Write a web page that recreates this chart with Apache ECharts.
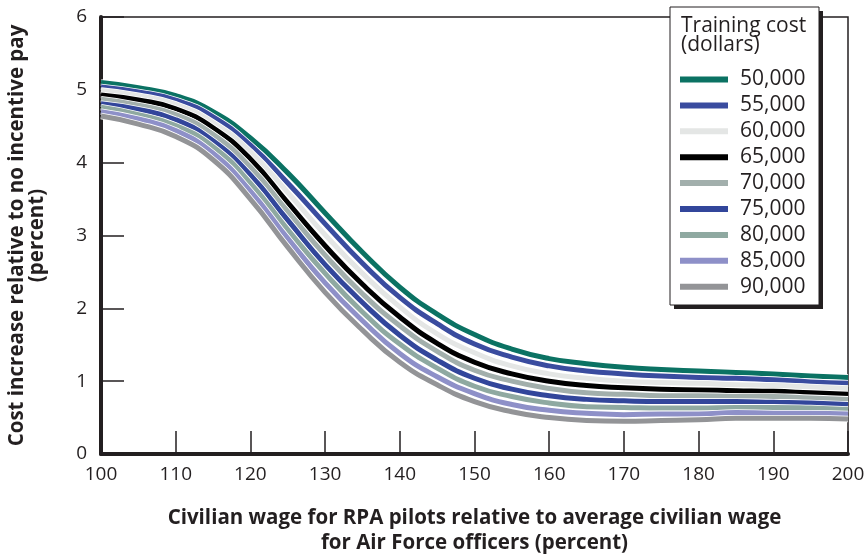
<!DOCTYPE html>
<html>
<head>
<meta charset="utf-8">
<script src="https://cdn.jsdelivr.net/npm/echarts@6/dist/echarts.min.js"></script>
<style>
html, body { margin: 0; padding: 0; background: #fff; }
#chart { width: 865px; height: 558px; }
</style>
</head>
<body>
<div id="chart"></div>
<script>
// wage ratio (percent), x positions of the points
const wage = [100, 105, 110, 115, 120, 125, 130, 135, 140, 145, 150, 155, 160, 165, 170, 175, 180, 185, 190, 195, 200];

// cost increase (percent) per training cost
const cost50 = [5.10, 5.03, 4.92, 4.70, 4.34, 3.86, 3.31, 2.77, 2.29, 1.92, 1.64, 1.44, 1.31, 1.24, 1.19, 1.16, 1.14, 1.12, 1.10, 1.07, 1.05];
const cost55 = [5.04, 4.97, 4.86, 4.63, 4.24, 3.72, 3.16, 2.62, 2.15, 1.79, 1.51, 1.33, 1.21, 1.14, 1.10, 1.07, 1.05, 1.04, 1.02, 0.99, 0.97];
const cost60 = [4.99, 4.92, 4.80, 4.55, 4.15, 3.59, 3.01, 2.48, 2.02, 1.65, 1.39, 1.21, 1.10, 1.04, 1.00, 0.98, 0.97, 0.95, 0.94, 0.92, 0.90];
const cost65 = [4.93, 4.86, 4.74, 4.48, 4.05, 3.45, 2.86, 2.33, 1.88, 1.52, 1.26, 1.10, 1.00, 0.94, 0.91, 0.89, 0.88, 0.87, 0.86, 0.84, 0.82];
const cost70 = [4.87, 4.79, 4.66, 4.39, 3.94, 3.33, 2.73, 2.20, 1.76, 1.41, 1.15, 1.00, 0.90, 0.84, 0.82, 0.80, 0.80, 0.79, 0.79, 0.77, 0.75];
const cost75 = [4.81, 4.73, 4.59, 4.30, 3.83, 3.21, 2.60, 2.08, 1.63, 1.29, 1.04, 0.89, 0.80, 0.75, 0.73, 0.72, 0.72, 0.72, 0.71, 0.70, 0.68];
const cost80 = [4.76, 4.66, 4.51, 4.22, 3.72, 3.08, 2.48, 1.95, 1.51, 1.18, 0.93, 0.79, 0.70, 0.65, 0.64, 0.63, 0.63, 0.64, 0.64, 0.63, 0.61];
const cost85 = [4.70, 4.60, 4.44, 4.13, 3.61, 2.96, 2.35, 1.83, 1.38, 1.06, 0.83, 0.68, 0.60, 0.56, 0.54, 0.55, 0.55, 0.57, 0.56, 0.56, 0.55];
const cost90 = [4.64, 4.53, 4.36, 4.04, 3.50, 2.84, 2.22, 1.70, 1.26, 0.95, 0.72, 0.58, 0.50, 0.46, 0.45, 0.46, 0.47, 0.49, 0.49, 0.49, 0.48];

const names = ['50,000', '55,000', '60,000', '65,000', '70,000', '75,000', '80,000', '85,000', '90,000'];
const values = [cost50, cost55, cost60, cost65, cost70, cost75, cost80, cost85, cost90];
const colors = ['#0b7263', '#3a4c9f', '#e4e6e5', '#000000', '#a2afac', '#32469b', '#8fa9a1', '#8e90c8', '#939497'];

const xTicks = [100, 110, 120, 130, 140, 150, 160, 170, 180, 190, 200];
const yTicks = [0, 1, 2, 3, 4, 5, 6];

const ink = '#231f20';
const font = 'Open Sans';

let chart = echarts.init(document.getElementById('chart'));

let series = [];
values.forEach((v, i) => {
    let pts = wage.map((x, k) => [x, v[k]]);
    // white edge under each band
    series.push({
        name: 'edge' + i,
        type: 'line',
        data: pts,
        smooth: 0.5,
        showSymbol: false,
        silent: true,
        color: '#ffffff',
        lineStyle: { color: '#ffffff', width: 6.6 },
        animation: false
    });
    series.push({
        name: names[i],
        type: 'line',
        data: pts,
        smooth: 0.5,
        showSymbol: false,
        color: colors[i],
        lineStyle: { color: colors[i], width: 5 },
        animation: false
    });
});

let options = {
    animation: false,
    grid: {
        left: 101,
        right: 17,
        top: 17,
        bottom: 104,
        containLabel: false,
        outerBoundsMode: 'none',
        show: true,
        borderColor: ink,
        borderWidth: 1.5
    },
    xAxis: {
        type: 'value',
        min: xTicks[0],
        max: xTicks[xTicks.length - 1],
        interval: 10,
        name: 'Civilian wage for RPA pilots relative to average civilian wage\nfor Air Force officers (percent)',
        nameLocation: 'middle',
        nameGap: 52,
        nameTextStyle: {
            fontFamily: font,
            fontWeight: 'bold',
            fontSize: 20.5,
            lineHeight: 25,
            color: ink
        },
        axisLine: { lineStyle: { color: ink, width: 4 } },
        axisTick: { inside: true, length: 23, lineStyle: { color: ink, width: 1.5 } },
        axisLabel: { fontFamily: font, fontSize: 19, color: ink, margin: 11 },
        splitLine: { show: false }
    },
    yAxis: {
        type: 'value',
        min: yTicks[0],
        max: yTicks[yTicks.length - 1],
        interval: 1,
        name: 'Cost increase relative to no incentive pay\n(percent)',
        nameLocation: 'middle',
        nameGap: 54,
        nameRotate: 90,
        nameTextStyle: {
            fontFamily: font,
            fontWeight: 'bold',
            fontSize: 20.5,
            lineHeight: 20,
            color: ink
        },
        axisLine: { lineStyle: { color: ink, width: 4 } },
        axisTick: { inside: true, length: 23, lineStyle: { color: ink, width: 1.5 } },
        axisLabel: { fontFamily: font, fontSize: 19, color: ink, margin: 14 },
        splitLine: { show: false }
    },
    legend: {
        data: names,
        orient: 'vertical',
        left: 680,
        top: 69,
        padding: 0,
        icon: 'rect',
        itemWidth: 48,
        itemHeight: 6,
        itemGap: 4.9,
        z: 10,
        selectedMode: false,
        textStyle: {
            fontFamily: font,
            fontSize: 21,
            lineHeight: 20,
            color: ink,
            padding: [0, 0, 0, 7]
        }
    },
    graphic: [
        { type: 'rect', z: 5, shape: { x: 674, y: 11, width: 149, height: 298 }, style: { fill: ink } },
        { type: 'rect', z: 6, shape: { x: 670, y: 7, width: 149, height: 298 }, style: { fill: '#fff', stroke: ink, lineWidth: 1 } },
        { type: 'text', z: 7, left: 681, top: 16, style: { text: 'Training cost', fontFamily: font, fontSize: 21, fill: ink } },
        { type: 'text', z: 7, left: 681, top: 35, style: { text: '(dollars)', fontFamily: font, fontSize: 21, fill: ink } }
    ],
    series: series
};

chart.setOption(options);
</script>
</body>
</html>
